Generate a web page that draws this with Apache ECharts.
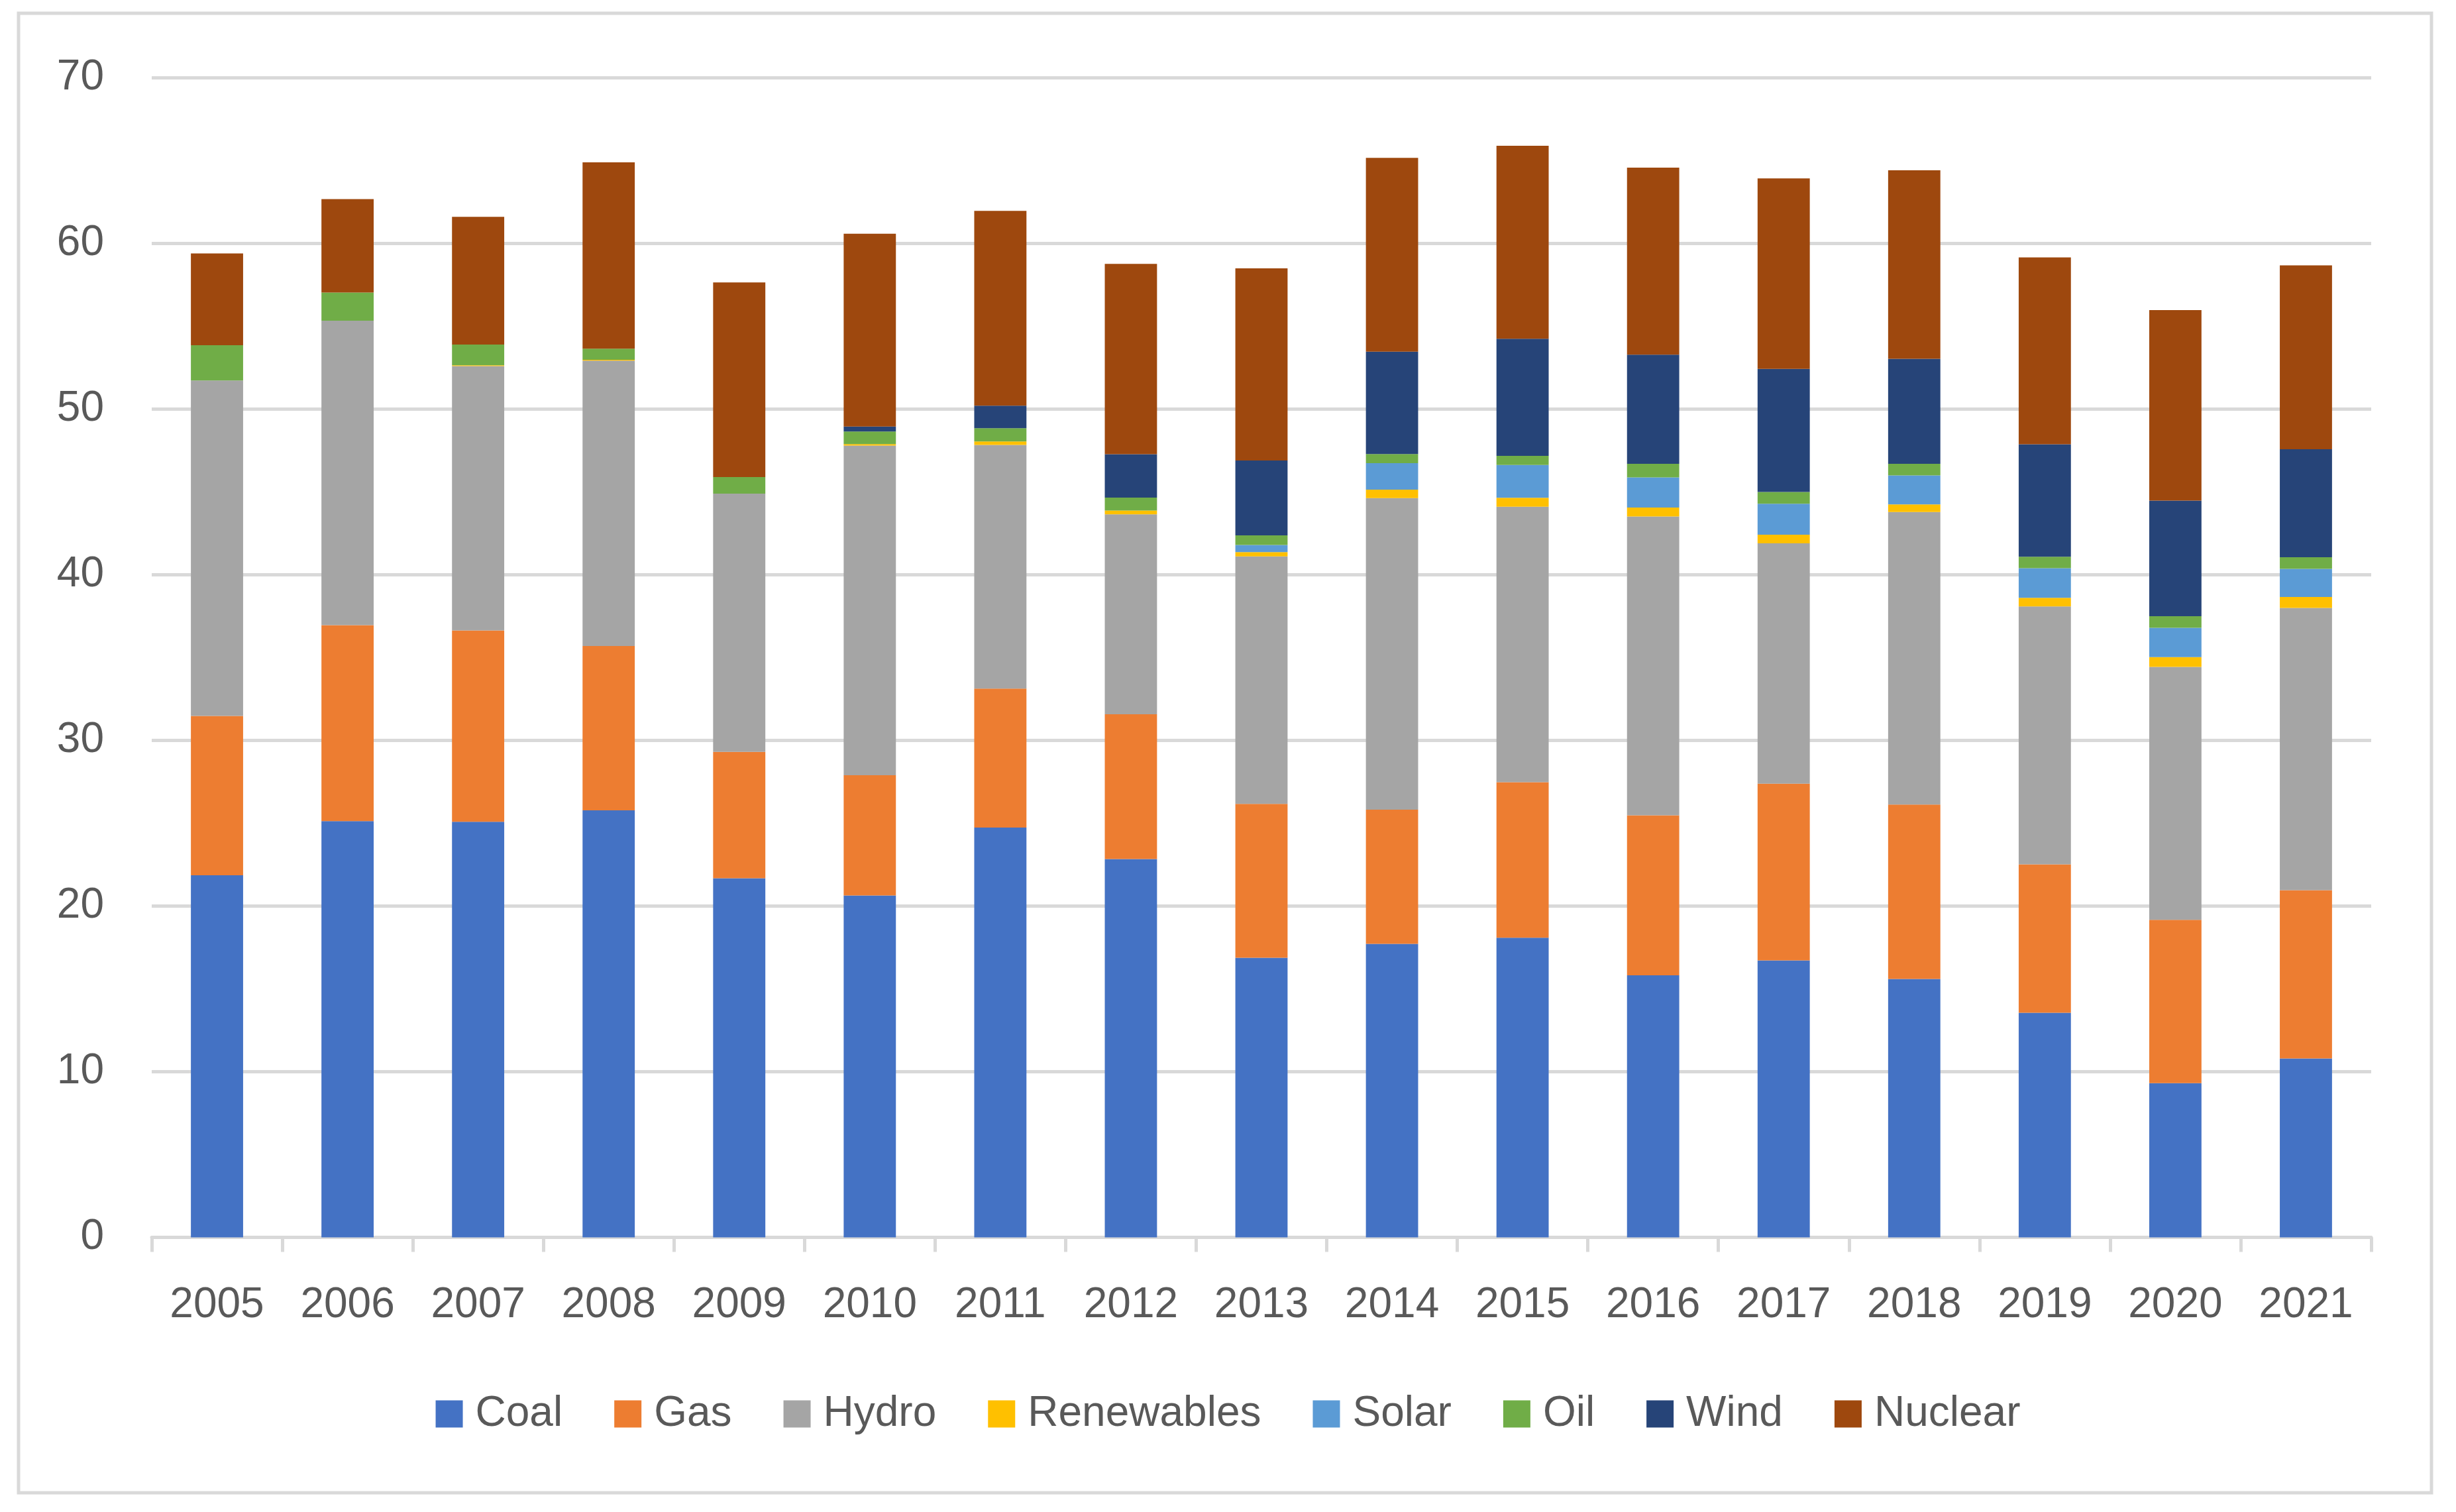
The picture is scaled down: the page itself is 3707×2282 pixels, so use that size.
<!DOCTYPE html>
<html>
<head>
<meta charset="utf-8">
<script src="https://cdn.jsdelivr.net/npm/echarts@6/dist/echarts.min.js"></script>
<style>
html,body{margin:0;padding:0;background:#fff;}
#chart{width:3707px;height:2282px;}
</style>
</head>
<body>
<div id="chart"></div>
<script>
const years = ['2005','2006','2007','2008','2009','2010','2011','2012','2013','2014','2015','2016','2017','2018','2019','2020','2021'];
const coal       = [21.86,25.13,25.09,25.78,21.68,20.64,24.74,22.84,16.88,17.72,18.09,15.82,16.72,15.60,13.56, 9.31,10.80];
const gas        = [ 9.62,11.83,11.55, 9.92, 7.63, 7.26, 8.39, 8.74, 9.29, 8.10, 9.39, 9.66,10.67,10.53, 8.96, 9.86,10.16];
const hydro      = [20.25,18.38,15.96,17.23,15.59,19.90,14.71,12.07,14.94,18.81,16.63,18.04,14.51,17.66,15.57,15.27,17.04];
const renewables = [ 0.00, 0.00, 0.05, 0.05, 0.00, 0.09, 0.21, 0.23, 0.26, 0.51, 0.54, 0.54, 0.52, 0.46, 0.52, 0.59, 0.66];
const solar      = [ 0.00, 0.00, 0.00, 0.00, 0.00, 0.00, 0.00, 0.00, 0.43, 1.60, 1.98, 1.82, 1.87, 1.75, 1.79, 1.77, 1.70];
const oil        = [ 2.13, 1.70, 1.25, 0.67, 1.00, 0.76, 0.80, 0.78, 0.58, 0.55, 0.55, 0.82, 0.71, 0.70, 0.69, 0.70, 0.70];
const wind       = [ 0.00, 0.00, 0.00, 0.00, 0.00, 0.30, 1.36, 2.62, 4.52, 6.18, 7.07, 6.59, 7.43, 6.34, 6.79, 6.98, 6.52];
const nuclear    = [ 5.54, 5.64, 7.71,11.25,11.75,11.64,11.76,11.49,11.60,11.70,11.65,11.29,11.50,11.38,11.28,11.50,11.10];

const seriesNames = ['Coal','Gas','Hydro','Renewables','Solar','Oil','Wind','Nuclear'];
const seriesData = [coal, gas, hydro, renewables, solar, oil, wind, nuclear];
const colors = ['#4472C4','#ED7D31','#A5A5A5','#FFC000','#5B9BD5','#70AD47','#264478','#9E480E'];

const FONT = '"Liberation Sans", Arial, sans-serif';
const chart = echarts.init(document.getElementById('chart'), null, {renderer:'canvas'});
chart.setOption({
  animation: false,
  backgroundColor: '#ffffff',
  color: colors,
  textStyle: {fontFamily: FONT},
  graphic: [{
    type: 'rect',
    shape: {x: 28, y: 20, width: 3642, height: 2233},
    style: {fill: 'none', stroke: '#d9d9d9', lineWidth: 5},
    silent: true, z: -1
  }],
  grid: {left: 229, right: 128, top: 117.5, bottom: 414.5, containLabel: false},
  legend: {
    data: seriesNames,
    top: 2097,
    left: 'center',
    itemWidth: 41,
    itemHeight: 41,
    itemGap: 78,
    icon: 'rect',
    textStyle: {fontSize: 64, color: '#595959', fontFamily: FONT, lineHeight: 41, padding: [0,0,0,14]}
  },
  xAxis: {
    type: 'category',
    data: years,
    axisLine: {show: true, lineStyle: {color: '#d9d9d9', width: 5}},
    axisTick: {show: true, length: 22, lineStyle: {color: '#d9d9d9', width: 5}},
    axisLabel: {fontSize: 64, color: '#595959', margin: 71, fontFamily: FONT}
  },
  yAxis: {
    type: 'value',
    min: 0, max: 70, interval: 10,
    axisLine: {show: false},
    axisTick: {show: false},
    splitLine: {show: true, lineStyle: {color: '#d9d9d9', width: 5}},
    axisLabel: {fontSize: 64, color: '#595959', margin: 72, fontFamily: FONT}
  },
  series: seriesNames.map((n, i) => ({
    name: n,
    type: 'bar',
    stack: 'total',
    barWidth: '40%',
    data: seriesData[i],
    itemStyle: {color: colors[i]}
  }))
});
</script>
</body>
</html>
